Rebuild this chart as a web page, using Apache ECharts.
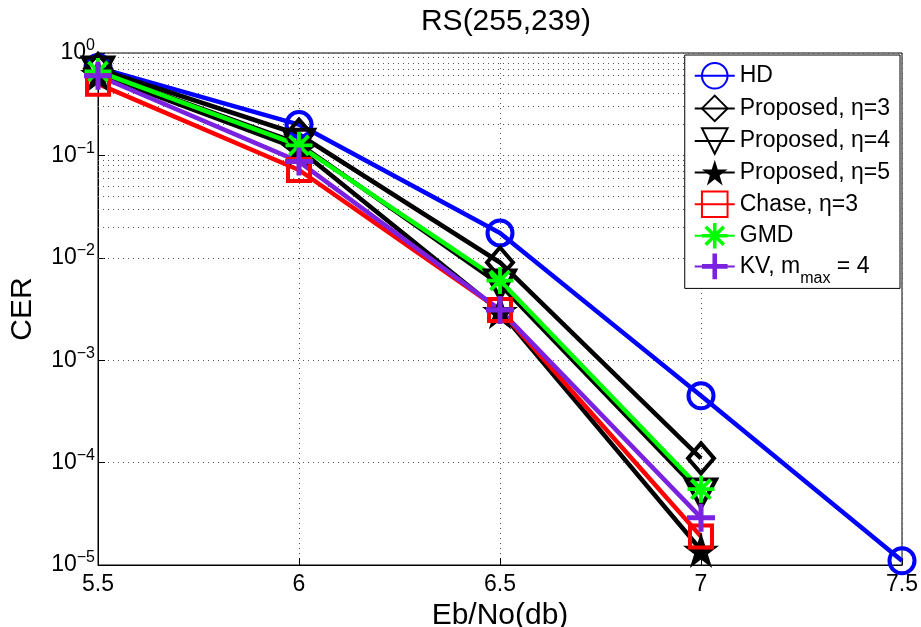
<!DOCTYPE html>
<html><head><meta charset="utf-8">
<script src="https://cdn.jsdelivr.net/npm/echarts@6/dist/echarts.min.js"></script>
<style>html,body{margin:0;padding:0;background:#fff}#c{width:921px;height:627px}</style>
</head><body><div id="c"></div>
<script>
// ---- data ----
const xValues = [5.5, 6, 6.5, 7, 7.5];
const hdValues = [0.72, 0.2, 0.0175, 4.5e-4, 1.1e-5];
const proposed3Values = [0.7, 0.16, 0.009, 1.1e-4];
const proposed4Values = [0.66, 0.13, 0.0055, 5e-5];
const proposed5Values = [0.62, 0.115, 0.003, 1.4e-5];
const chaseValues = [0.5, 0.072, 0.0031, 1.9e-5];
const gmdValues = [0.66, 0.125, 0.006, 5.5e-5];
const kvValues = [0.6, 0.087, 0.0031, 2.9e-5];
const seriesNames = ['HD', 'Proposed, η=3', 'Proposed, η=4', 'Proposed, η=5', 'Chase, η=3', 'GMD', 'KV, m_max = 4'];
const xTickValues = [5.5, 6, 6.5, 7, 7.5];
const yDecadeExponents = [-5, -4, -3, -2, -1, 0];
const minorMantissas = [2, 3, 4, 5, 6, 7, 8, 9];
const titleText = 'RS(255,239)';
const xName = 'Eb/No(db)';
const yName = 'CER';

// ---- helpers ----
const FONT = '"Liberation Sans", Arial, Helvetica, sans-serif';
const minorGridValues = [];
yDecadeExponents.slice(0, -1).forEach(e => minorMantissas.forEach(m => minorGridValues.push(m * Math.pow(10, e))));
const pts = vals => vals.map((v, i) => [xValues[i], v]);

const STAR = 'path://M0,-100 L22.5,-30.9 L95.1,-30.9 L36.3,11.8 L58.8,80.9 L0,38.2 L-58.8,80.9 L-36.3,11.8 L-95.1,-30.9 L-22.5,-30.9 Z';
const ASTER = 'path://M-10,-1.4 L10,-1.4 L10,1.4 L-10,1.4 Z M-1.4,-10 L1.4,-10 L1.4,10 L-1.4,10 Z M-6.08,-8.06 L8.06,6.08 L6.08,8.06 L-8.06,-6.08 Z M-8.06,6.08 L6.08,-8.06 L8.06,-6.08 L-6.08,8.06 Z';
const PLUS = 'path://M-10,-1.8 L10,-1.8 L10,1.8 L-10,1.8 Z M-1.8,-10 L1.8,-10 L1.8,10 L-1.8,10 Z';
const CLEAR = 'rgba(0,0,0,0)';

function mk(name, data, color, symbol, size, hollow, extra) {
  return Object.assign({
    name, type: 'line', data: pts(data), z: 3,
    symbol, symbolSize: size, showAllSymbol: true,
    lineStyle: { color, width: 4.5 },
    itemStyle: hollow ? { color: CLEAR, borderColor: color, borderWidth: 4 } : { color, borderWidth: 0 },
    emphasis: { disabled: true }
  }, extra || {});
}

const series = [
  mk(seriesNames[0], hdValues, '#0000ff', 'circle', 25, true),
  mk(seriesNames[1], proposed3Values, '#000000', 'diamond', [26, 30], true),
  mk(seriesNames[2], proposed4Values, '#000000', 'triangle', [30, 28], true, { symbolRotate: 180 }),
  mk(seriesNames[3], proposed5Values, '#000000', STAR, 36, false),
  mk(seriesNames[4], chaseValues, '#ff0000', 'rect', 22, true),
  mk(seriesNames[5], gmdValues, '#00ff00', ASTER, 27, false),
  mk(seriesNames[6], kvValues, '#7b22e0', PLUS, 28, false)
];
// minor grid lines (dotted) on the log axis
series.push({
  type: 'line', data: [], silent: true, z: 1,
  markLine: {
    silent: true, symbol: 'none', z: 1, animation: false,
    label: { show: false },
    lineStyle: { color: '#555', type: [1, 4], width: 1 },
    data: minorGridValues.map(v => ({ yAxis: v }))
  }
});

const chart = echarts.init(document.getElementById('c'), null, { renderer: 'canvas' });
chart.setOption({
  animation: false,
  backgroundColor: '#fff',
  title: {
    text: titleText, left: 501, top: 2, textAlign: 'center',
    textStyle: { fontFamily: FONT, fontSize: 30, fontWeight: 'normal', color: '#000' }
  },
  grid: { left: 98, right: 19, top: 53, bottom: 62, containLabel: false, outerBoundsMode: 'none', show: true, borderColor: '#000', borderWidth: 1, backgroundColor: 'transparent' },
  xAxis: {
    type: 'value', min: 5.5, max: 7.5, interval: 0.5,
    name: xName, nameLocation: 'middle', nameGap: 27,
    nameTextStyle: { fontFamily: FONT, fontSize: 30, color: '#000' },
    axisLine: { lineStyle: { color: '#000', width: 1 } },
    axisTick: { inside: true, length: 7, lineStyle: { color: '#000' } },
    axisLabel: {
      margin: 8, fontFamily: FONT, fontSize: 23, color: '#000',
      formatter: v => { const t = xTickValues.find(x => Math.abs(x - v) < 1e-9); return t === undefined ? '' : String(t); }
    },
    splitLine: { show: true, lineStyle: { color: '#555', type: [1, 4], width: 1 } }
  },
  yAxis: {
    type: 'log', logBase: 10, min: 1e-5, max: 1,
    name: yName, nameLocation: 'middle', nameGap: 60,
    nameTextStyle: { fontFamily: FONT, fontSize: 30, color: '#000' },
    axisLine: { show: true, lineStyle: { color: '#000', width: 1 } },
    axisTick: { show: true, inside: true, length: 7, lineStyle: { color: '#000' } },
    axisLabel: {
      margin: 3, fontFamily: FONT, color: '#000',
      formatter: v => {
        const e = Math.round(Math.log10(v));
        if (!yDecadeExponents.includes(e)) return '';
        return '{b|10}{s|' + (e < 0 ? '\u2212' + (-e) : String(e)) + '}';
      },
      rich: {
        b: { fontFamily: FONT, fontSize: 23, lineHeight: 30, color: '#000' },
        s: { fontFamily: FONT, fontSize: 16, lineHeight: 16, verticalAlign: 'top', color: '#000' }
      }
    },
    splitLine: { show: true, lineStyle: { color: '#555', type: [1, 4], width: 1 } }
  },
  legend: {
    data: seriesNames,
    orient: 'vertical', right: 21, top: 55,
    padding: [7, 10, 2, 9], itemGap: 5, itemWidth: 40, itemHeight: 32,
    backgroundColor: '#fff', borderColor: '#000', borderWidth: 1, borderRadius: 0,
    selectedMode: false,
    formatter: name => name === seriesNames[6] ? 'KV, m{sub|max} = 4' : name,
    textStyle: {
      fontFamily: FONT, fontSize: 23, color: '#000',
      rich: { sub: { fontFamily: FONT, fontSize: 16, color: '#000', padding: [24, 0, 0, 0] } }
    }
  },
  series
});
</script></body></html>
